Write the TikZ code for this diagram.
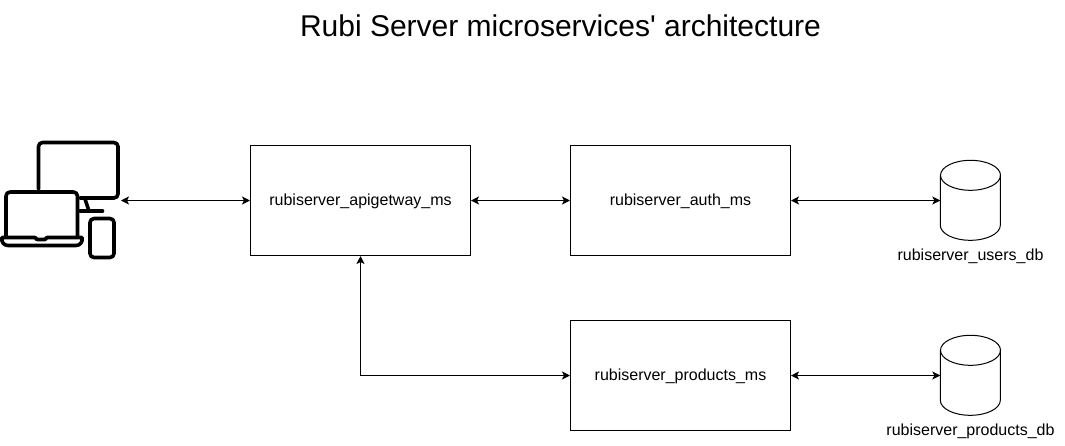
\documentclass[tikz,border=0pt]{standalone}
\usepackage{fontspec}
\setmainfont{Liberation Sans}
\usetikzlibrary{arrows.meta}
\tikzset{
  x=1pt,y=-1pt,
  svc/.style={draw=black,line width=1pt,minimum width=220pt,minimum height=110pt,inner sep=0pt,text height=13pt,text depth=3pt,font=\fontsize{16}{19}\selectfont},
  dbbox/.style={minimum width=60pt,minimum height=80pt,inner sep=0pt},
  dblabel/.style={inner sep=0pt,font=\fontsize{16}{19}\selectfont},
  link/.style={line width=1pt,{Stealth[length=8pt,width=8pt,inset=2pt]}-{Stealth[length=8pt,width=8pt,inset=2pt]}},
  icon/.style={line width=3.6pt,line cap=round,line join=round,draw=black,rounded corners=4pt},
}
\begin{document}
\begin{tikzpicture}
\useasboundingbox (0,0) rectangle (1065,445);
\fill[white] (0,0) rectangle (1065,445);
\node[inner sep=0pt,font=\fontsize{30}{36}\selectfont] (title) at (560.5,26) {Rubi Server microservices\textquotesingle\ architecture};
\node[svc] (gw) at (360.5,200.5) {rubiserver\_apigetway\_ms};
\node[svc] (auth) at (680.5,200.5) {rubiserver\_auth\_ms};
\node[svc] (prod) at (680.5,375.5) {rubiserver\_products\_ms};
\node[dbbox] (udb) at (970.5,200.5) {};
\node[dbbox] (pdb) at (970.5,375.5) {};
\foreach \n in {udb,pdb}{
  \draw[line width=1pt] (\n.north) ++(0,15) ellipse[x radius=30,y radius=15];
  \draw[line width=1pt] (\n.north west) ++(0,15) -- ++(0,50)
    arc[start angle=180,end angle=0,x radius=30,y radius=15] -- ++(0,-50);
}
\node[dblabel] (ulabel) at (970.5,256.5) {rubiserver\_users\_db};
\node[dblabel] (plabel) at (970.5,431) {rubiserver\_products\_db};
% devices icon
\draw[icon] (38.5,189) -- (38.5,142.5) -- (118,142.5) -- (118,198) -- (80,198);
\draw[icon,rounded corners=0pt] (85,199) -- (89,211);
\draw[icon,rounded corners=0pt] (80,211) -- (102.5,211);
\draw[icon] (6,237) -- (6,192) -- (77.5,192) -- (77.5,237);
\draw[icon,rounded corners=0pt] (5,237.5) -- (35,237.5) -- (37,239.5) -- (45,239.5) -- (47,237.5) -- (82,237.5)
  .. controls (83,242) and (80,245.5) .. (76,245.5) -- (8,245.5) .. controls (4,245.5) and (1,242) .. (2,237.5) -- cycle;
\draw[icon] (90,218.5) -- (114,218.5) -- (114,257.5) -- (90,257.5) -- cycle;
\coordinate (dev) at (121,200.5);
% connectors
\draw[link] (dev) -- (gw.west);
\draw[link] (gw.east) -- (auth.west);
\draw[link] (auth.east) -- (udb.west);
\draw[link] (prod.east) -- (pdb.west);
\draw[link] (gw.south) |- (prod.west);
\end{tikzpicture}
\end{document}
